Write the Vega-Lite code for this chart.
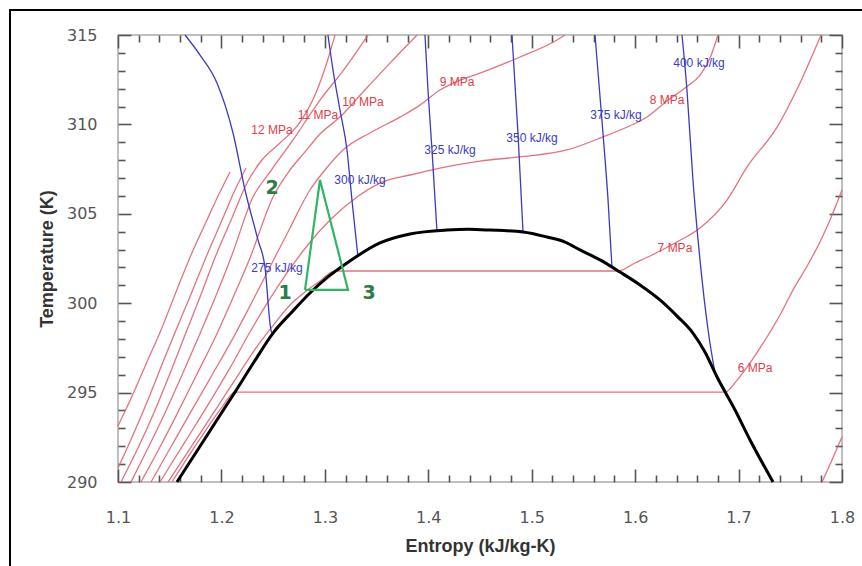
{
  "$schema": "https://vega.github.io/schema/vega-lite/v6.json",
  "width": 724,
  "height": 447,
  "autosize": {"type": "none"},
  "padding": {"left": 118, "top": 35, "right": 20, "bottom": 84},
  "background": "white",
  "config": {
    "view": {"stroke": "#aaaaaa", "strokeWidth": 1.5},
    "axis": {"grid": false}
  },
  "datasets": {
    "curves": [
      {"curve": "sat", "kind": "sat", "s": 1.1570, "T": 290.00},
      {"curve": "sat", "kind": "sat", "s": 1.1851, "T": 292.52},
      {"curve": "sat", "kind": "sat", "s": 1.2131, "T": 295.03},
      {"curve": "sat", "kind": "sat", "s": 1.2315, "T": 296.71},
      {"curve": "sat", "kind": "sat", "s": 1.2499, "T": 298.33},
      {"curve": "sat", "kind": "sat", "s": 1.2682, "T": 299.51},
      {"curve": "sat", "kind": "sat", "s": 1.2856, "T": 300.57},
      {"curve": "sat", "kind": "sat", "s": 1.3030, "T": 301.47},
      {"curve": "sat", "kind": "sat", "s": 1.3214, "T": 302.25},
      {"curve": "sat", "kind": "sat", "s": 1.3533, "T": 303.37},
      {"curve": "sat", "kind": "sat", "s": 1.3823, "T": 303.87},
      {"curve": "sat", "kind": "sat", "s": 1.4181, "T": 304.09},
      {"curve": "sat", "kind": "sat", "s": 1.4389, "T": 304.13},
      {"curve": "sat", "kind": "sat", "s": 1.4597, "T": 304.09},
      {"curve": "sat", "kind": "sat", "s": 1.4916, "T": 303.98},
      {"curve": "sat", "kind": "sat", "s": 1.5148, "T": 303.70},
      {"curve": "sat", "kind": "sat", "s": 1.5322, "T": 303.42},
      {"curve": "sat", "kind": "sat", "s": 1.5467, "T": 302.98},
      {"curve": "sat", "kind": "sat", "s": 1.5660, "T": 302.42},
      {"curve": "sat", "kind": "sat", "s": 1.5854, "T": 301.74},
      {"curve": "sat", "kind": "sat", "s": 1.6047, "T": 301.02},
      {"curve": "sat", "kind": "sat", "s": 1.6240, "T": 300.18},
      {"curve": "sat", "kind": "sat", "s": 1.6405, "T": 299.28},
      {"curve": "sat", "kind": "sat", "s": 1.6559, "T": 298.33},
      {"curve": "sat", "kind": "sat", "s": 1.6675, "T": 297.27},
      {"curve": "sat", "kind": "sat", "s": 1.6792, "T": 295.87},
      {"curve": "sat", "kind": "sat", "s": 1.6966, "T": 294.03},
      {"curve": "sat", "kind": "sat", "s": 1.7111, "T": 292.35},
      {"curve": "sat", "kind": "sat", "s": 1.7333, "T": 290.00},

      {"curve": "5 MPa", "kind": "isobar", "s": 1.7807, "T": 290.00},
      {"curve": "5 MPa", "kind": "isobar", "s": 1.7903, "T": 291.23},
      {"curve": "5 MPa", "kind": "isobar", "s": 1.8000, "T": 292.52},

      {"curve": "6 MPa", "kind": "isobar", "s": 1.1522, "T": 290.00},
      {"curve": "6 MPa", "kind": "isobar", "s": 1.1773, "T": 292.24},
      {"curve": "6 MPa", "kind": "isobar", "s": 1.2006, "T": 294.19},
      {"curve": "6 MPa", "kind": "isobar", "s": 1.2131, "T": 295.03},
      {"curve": "6 MPa", "kind": "isobar", "s": 1.6869, "T": 295.03},
      {"curve": "6 MPa", "kind": "isobar", "s": 1.6985, "T": 295.70},
      {"curve": "6 MPa", "kind": "isobar", "s": 1.7130, "T": 296.82},
      {"curve": "6 MPa", "kind": "isobar", "s": 1.7275, "T": 298.11},
      {"curve": "6 MPa", "kind": "isobar", "s": 1.7401, "T": 299.34},
      {"curve": "6 MPa", "kind": "isobar", "s": 1.7526, "T": 300.74},
      {"curve": "6 MPa", "kind": "isobar", "s": 1.7652, "T": 301.97},
      {"curve": "6 MPa", "kind": "isobar", "s": 1.7787, "T": 303.42},
      {"curve": "6 MPa", "kind": "isobar", "s": 1.7884, "T": 304.65},
      {"curve": "6 MPa", "kind": "isobar", "s": 1.7951, "T": 305.60},
      {"curve": "6 MPa", "kind": "isobar", "s": 1.8000, "T": 306.33},

      {"curve": "7 MPa", "kind": "isobar", "s": 1.1483, "T": 290.00},
      {"curve": "7 MPa", "kind": "isobar", "s": 1.1744, "T": 292.29},
      {"curve": "7 MPa", "kind": "isobar", "s": 1.2006, "T": 294.59},
      {"curve": "7 MPa", "kind": "isobar", "s": 1.2180, "T": 296.15},
      {"curve": "7 MPa", "kind": "isobar", "s": 1.2354, "T": 297.66},
      {"curve": "7 MPa", "kind": "isobar", "s": 1.2518, "T": 298.89},
      {"curve": "7 MPa", "kind": "isobar", "s": 1.2663, "T": 299.90},
      {"curve": "7 MPa", "kind": "isobar", "s": 1.2808, "T": 300.63},
      {"curve": "7 MPa", "kind": "isobar", "s": 1.2953, "T": 301.24},
      {"curve": "7 MPa", "kind": "isobar", "s": 1.3098, "T": 301.80},
      {"curve": "7 MPa", "kind": "isobar", "s": 1.5834, "T": 301.80},
      {"curve": "7 MPa", "kind": "isobar", "s": 1.5999, "T": 302.25},
      {"curve": "7 MPa", "kind": "isobar", "s": 1.6144, "T": 302.64},
      {"curve": "7 MPa", "kind": "isobar", "s": 1.6385, "T": 303.37},
      {"curve": "7 MPa", "kind": "isobar", "s": 1.6627, "T": 304.21},
      {"curve": "7 MPa", "kind": "isobar", "s": 1.6888, "T": 305.77},
      {"curve": "7 MPa", "kind": "isobar", "s": 1.7082, "T": 307.62},
      {"curve": "7 MPa", "kind": "isobar", "s": 1.7372, "T": 309.85},
      {"curve": "7 MPa", "kind": "isobar", "s": 1.7594, "T": 312.32},
      {"curve": "7 MPa", "kind": "isobar", "s": 1.7797, "T": 315.00},

      {"curve": "8 MPa", "kind": "isobar", "s": 1.1406, "T": 290.00},
      {"curve": "8 MPa", "kind": "isobar", "s": 1.1648, "T": 292.24},
      {"curve": "8 MPa", "kind": "isobar", "s": 1.1870, "T": 294.31},
      {"curve": "8 MPa", "kind": "isobar", "s": 1.2083, "T": 296.38},
      {"curve": "8 MPa", "kind": "isobar", "s": 1.2276, "T": 298.39},
      {"curve": "8 MPa", "kind": "isobar", "s": 1.2450, "T": 300.07},
      {"curve": "8 MPa", "kind": "isobar", "s": 1.2634, "T": 301.69},
      {"curve": "8 MPa", "kind": "isobar", "s": 1.2827, "T": 303.20},
      {"curve": "8 MPa", "kind": "isobar", "s": 1.3050, "T": 304.65},
      {"curve": "8 MPa", "kind": "isobar", "s": 1.3311, "T": 305.94},
      {"curve": "8 MPa", "kind": "isobar", "s": 1.3533, "T": 306.72},
      {"curve": "8 MPa", "kind": "isobar", "s": 1.3823, "T": 307.17},
      {"curve": "8 MPa", "kind": "isobar", "s": 1.4113, "T": 307.56},
      {"curve": "8 MPa", "kind": "isobar", "s": 1.4500, "T": 307.95},
      {"curve": "8 MPa", "kind": "isobar", "s": 1.4887, "T": 308.18},
      {"curve": "8 MPa", "kind": "isobar", "s": 1.5341, "T": 308.57},
      {"curve": "8 MPa", "kind": "isobar", "s": 1.5689, "T": 309.30},
      {"curve": "8 MPa", "kind": "isobar", "s": 1.5902, "T": 309.80},
      {"curve": "8 MPa", "kind": "isobar", "s": 1.6115, "T": 310.41},
      {"curve": "8 MPa", "kind": "isobar", "s": 1.6318, "T": 311.36},
      {"curve": "8 MPa", "kind": "isobar", "s": 1.6482, "T": 312.04},
      {"curve": "8 MPa", "kind": "isobar", "s": 1.6627, "T": 312.76},
      {"curve": "8 MPa", "kind": "isobar", "s": 1.6724, "T": 313.71},
      {"curve": "8 MPa", "kind": "isobar", "s": 1.6801, "T": 315.00},

      {"curve": "9 MPa", "kind": "isobar", "s": 1.1319, "T": 290.00},
      {"curve": "9 MPa", "kind": "isobar", "s": 1.1522, "T": 292.07},
      {"curve": "9 MPa", "kind": "isobar", "s": 1.1715, "T": 294.03},
      {"curve": "9 MPa", "kind": "isobar", "s": 1.1909, "T": 295.98},
      {"curve": "9 MPa", "kind": "isobar", "s": 1.2112, "T": 298.05},
      {"curve": "9 MPa", "kind": "isobar", "s": 1.2296, "T": 300.07},
      {"curve": "9 MPa", "kind": "isobar", "s": 1.2489, "T": 302.25},
      {"curve": "9 MPa", "kind": "isobar", "s": 1.2663, "T": 304.21},
      {"curve": "9 MPa", "kind": "isobar", "s": 1.2856, "T": 306.33},
      {"curve": "9 MPa", "kind": "isobar", "s": 1.3001, "T": 307.45},
      {"curve": "9 MPa", "kind": "isobar", "s": 1.3175, "T": 308.57},
      {"curve": "9 MPa", "kind": "isobar", "s": 1.3436, "T": 309.52},
      {"curve": "9 MPa", "kind": "isobar", "s": 1.3727, "T": 310.41},
      {"curve": "9 MPa", "kind": "isobar", "s": 1.3920, "T": 311.08},
      {"curve": "9 MPa", "kind": "isobar", "s": 1.4113, "T": 311.92},
      {"curve": "9 MPa", "kind": "isobar", "s": 1.4307, "T": 312.48},
      {"curve": "9 MPa", "kind": "isobar", "s": 1.4500, "T": 312.87},
      {"curve": "9 MPa", "kind": "isobar", "s": 1.4887, "T": 313.77},
      {"curve": "9 MPa", "kind": "isobar", "s": 1.5245, "T": 314.72},
      {"curve": "9 MPa", "kind": "isobar", "s": 1.5322, "T": 315.00},

      {"curve": "10 MPa", "kind": "isobar", "s": 1.1222, "T": 290.00},
      {"curve": "10 MPa", "kind": "isobar", "s": 1.1406, "T": 291.96},
      {"curve": "10 MPa", "kind": "isobar", "s": 1.1580, "T": 293.91},
      {"curve": "10 MPa", "kind": "isobar", "s": 1.1754, "T": 295.93},
      {"curve": "10 MPa", "kind": "isobar", "s": 1.1928, "T": 297.94},
      {"curve": "10 MPa", "kind": "isobar", "s": 1.2102, "T": 300.18},
      {"curve": "10 MPa", "kind": "isobar", "s": 1.2276, "T": 302.53},
      {"curve": "10 MPa", "kind": "isobar", "s": 1.2499, "T": 305.94},
      {"curve": "10 MPa", "kind": "isobar", "s": 1.2663, "T": 307.45},
      {"curve": "10 MPa", "kind": "isobar", "s": 1.2808, "T": 308.46},
      {"curve": "10 MPa", "kind": "isobar", "s": 1.2953, "T": 309.46},
      {"curve": "10 MPa", "kind": "isobar", "s": 1.3146, "T": 310.41},
      {"curve": "10 MPa", "kind": "isobar", "s": 1.3369, "T": 311.81},
      {"curve": "10 MPa", "kind": "isobar", "s": 1.3630, "T": 313.43},
      {"curve": "10 MPa", "kind": "isobar", "s": 1.3891, "T": 315.00},

      {"curve": "11 MPa", "kind": "isobar", "s": 1.1126, "T": 290.00},
      {"curve": "11 MPa", "kind": "isobar", "s": 1.1290, "T": 291.90},
      {"curve": "11 MPa", "kind": "isobar", "s": 1.1454, "T": 293.86},
      {"curve": "11 MPa", "kind": "isobar", "s": 1.1619, "T": 295.98},
      {"curve": "11 MPa", "kind": "isobar", "s": 1.1783, "T": 298.17},
      {"curve": "11 MPa", "kind": "isobar", "s": 1.1938, "T": 300.29},
      {"curve": "11 MPa", "kind": "isobar", "s": 1.2102, "T": 302.70},
      {"curve": "11 MPa", "kind": "isobar", "s": 1.2305, "T": 305.94},
      {"curve": "11 MPa", "kind": "isobar", "s": 1.2470, "T": 307.34},
      {"curve": "11 MPa", "kind": "isobar", "s": 1.2692, "T": 309.13},
      {"curve": "11 MPa", "kind": "isobar", "s": 1.2953, "T": 311.36},
      {"curve": "11 MPa", "kind": "isobar", "s": 1.3195, "T": 313.15},
      {"curve": "11 MPa", "kind": "isobar", "s": 1.3417, "T": 315.00},

      {"curve": "12 MPa", "kind": "isobar", "s": 1.1029, "T": 290.00},
      {"curve": "12 MPa", "kind": "isobar", "s": 1.1184, "T": 291.79},
      {"curve": "12 MPa", "kind": "isobar", "s": 1.1338, "T": 293.75},
      {"curve": "12 MPa", "kind": "isobar", "s": 1.1493, "T": 295.93},
      {"curve": "12 MPa", "kind": "isobar", "s": 1.1648, "T": 298.22},
      {"curve": "12 MPa", "kind": "isobar", "s": 1.1793, "T": 300.35},
      {"curve": "12 MPa", "kind": "isobar", "s": 1.1948, "T": 302.70},
      {"curve": "12 MPa", "kind": "isobar", "s": 1.2102, "T": 304.77},
      {"curve": "12 MPa", "kind": "isobar", "s": 1.2247, "T": 306.72},
      {"curve": "12 MPa", "kind": "isobar", "s": 1.2392, "T": 308.01},
      {"curve": "12 MPa", "kind": "isobar", "s": 1.2566, "T": 308.96},
      {"curve": "12 MPa", "kind": "isobar", "s": 1.2760, "T": 310.13},
      {"curve": "12 MPa", "kind": "isobar", "s": 1.2905, "T": 311.64},
      {"curve": "12 MPa", "kind": "isobar", "s": 1.3021, "T": 313.49},
      {"curve": "12 MPa", "kind": "isobar", "s": 1.3098, "T": 315.00},

      {"curve": "13 MPa", "kind": "isobar", "s": 1.1000, "T": 290.78},
      {"curve": "13 MPa", "kind": "isobar", "s": 1.1145, "T": 292.63},
      {"curve": "13 MPa", "kind": "isobar", "s": 1.1309, "T": 294.87},
      {"curve": "13 MPa", "kind": "isobar", "s": 1.1435, "T": 296.71},
      {"curve": "13 MPa", "kind": "isobar", "s": 1.1561, "T": 298.50},
      {"curve": "13 MPa", "kind": "isobar", "s": 1.1715, "T": 300.63},
      {"curve": "13 MPa", "kind": "isobar", "s": 1.1860, "T": 302.70},
      {"curve": "13 MPa", "kind": "isobar", "s": 1.2006, "T": 304.65},
      {"curve": "13 MPa", "kind": "isobar", "s": 1.2131, "T": 306.33},
      {"curve": "13 MPa", "kind": "isobar", "s": 1.2238, "T": 307.56},

      {"curve": "14 MPa", "kind": "isobar", "s": 1.1000, "T": 293.13},
      {"curve": "14 MPa", "kind": "isobar", "s": 1.1145, "T": 294.92},
      {"curve": "14 MPa", "kind": "isobar", "s": 1.1280, "T": 296.71},
      {"curve": "14 MPa", "kind": "isobar", "s": 1.1416, "T": 298.50},
      {"curve": "14 MPa", "kind": "isobar", "s": 1.1561, "T": 300.63},
      {"curve": "14 MPa", "kind": "isobar", "s": 1.1706, "T": 302.70},
      {"curve": "14 MPa", "kind": "isobar", "s": 1.1851, "T": 304.54},
      {"curve": "14 MPa", "kind": "isobar", "s": 1.1986, "T": 306.22},
      {"curve": "14 MPa", "kind": "isobar", "s": 1.2083, "T": 307.34},

      {"curve": "275", "kind": "isenthalp", "s": 1.1648, "T": 315.00},
      {"curve": "275", "kind": "isenthalp", "s": 1.1793, "T": 313.88},
      {"curve": "275", "kind": "isenthalp", "s": 1.1957, "T": 312.32},
      {"curve": "275", "kind": "isenthalp", "s": 1.2112, "T": 309.52},
      {"curve": "275", "kind": "isenthalp", "s": 1.2228, "T": 306.33},
      {"curve": "275", "kind": "isenthalp", "s": 1.2354, "T": 303.53},
      {"curve": "275", "kind": "isenthalp", "s": 1.2421, "T": 302.02},
      {"curve": "275", "kind": "isenthalp", "s": 1.2479, "T": 298.50},
      {"curve": "275", "kind": "isenthalp", "s": 1.2489, "T": 298.33},

      {"curve": "300", "kind": "isenthalp", "s": 1.3030, "T": 315.00},
      {"curve": "300", "kind": "isenthalp", "s": 1.3079, "T": 313.04},
      {"curve": "300", "kind": "isenthalp", "s": 1.3146, "T": 310.81},
      {"curve": "300", "kind": "isenthalp", "s": 1.3214, "T": 308.57},
      {"curve": "300", "kind": "isenthalp", "s": 1.3262, "T": 305.77},
      {"curve": "300", "kind": "isenthalp", "s": 1.3320, "T": 302.58},

      {"curve": "325", "kind": "isenthalp", "s": 1.3968, "T": 315.00},
      {"curve": "325", "kind": "isenthalp", "s": 1.3997, "T": 311.92},
      {"curve": "325", "kind": "isenthalp", "s": 1.4036, "T": 308.57},
      {"curve": "325", "kind": "isenthalp", "s": 1.4084, "T": 304.03},

      {"curve": "350", "kind": "isenthalp", "s": 1.4809, "T": 315.00},
      {"curve": "350", "kind": "isenthalp", "s": 1.4867, "T": 309.52},
      {"curve": "350", "kind": "isenthalp", "s": 1.4916, "T": 303.98},

      {"curve": "375", "kind": "isenthalp", "s": 1.5612, "T": 315.00},
      {"curve": "375", "kind": "isenthalp", "s": 1.5689, "T": 309.52},
      {"curve": "375", "kind": "isenthalp", "s": 1.5738, "T": 305.77},
      {"curve": "375", "kind": "isenthalp", "s": 1.5776, "T": 302.01},

      {"curve": "400", "kind": "isenthalp", "s": 1.6453, "T": 315.00},
      {"curve": "400", "kind": "isenthalp", "s": 1.6501, "T": 311.92},
      {"curve": "400", "kind": "isenthalp", "s": 1.6559, "T": 306.89},
      {"curve": "400", "kind": "isenthalp", "s": 1.6627, "T": 302.42},
      {"curve": "400", "kind": "isenthalp", "s": 1.6705, "T": 298.50},
      {"curve": "400", "kind": "isenthalp", "s": 1.6772, "T": 296.10},

      {"curve": "cycle", "kind": "cycle", "s": 1.2808, "T": 300.74},
      {"curve": "cycle", "kind": "cycle", "s": 1.2953, "T": 306.89},
      {"curve": "cycle", "kind": "cycle", "s": 1.3224, "T": 300.74},
      {"curve": "cycle", "kind": "cycle", "s": 1.2808, "T": 300.74}
    ],
    "labels": [
      {"label": "12 MPa", "kind": "isobar", "s": 1.2489, "T": 309.69},
      {"label": "11 MPa", "kind": "isobar", "s": 1.2934, "T": 310.53},
      {"label": "10 MPa", "kind": "isobar", "s": 1.3369, "T": 311.25},
      {"label": "9 MPa", "kind": "isobar", "s": 1.4278, "T": 312.37},
      {"label": "8 MPa", "kind": "isobar", "s": 1.6308, "T": 311.36},
      {"label": "7 MPa", "kind": "isobar", "s": 1.6385, "T": 303.09},
      {"label": "6 MPa", "kind": "isobar", "s": 1.7159, "T": 296.38},
      {"label": "275 kJ/kg", "kind": "isenthalp", "s": 1.2537, "T": 301.97},
      {"label": "300 kJ/kg", "kind": "isenthalp", "s": 1.3340, "T": 306.89},
      {"label": "325 kJ/kg", "kind": "isenthalp", "s": 1.4210, "T": 308.57},
      {"label": "350 kJ/kg", "kind": "isenthalp", "s": 1.5003, "T": 309.24},
      {"label": "375 kJ/kg", "kind": "isenthalp", "s": 1.5815, "T": 310.53},
      {"label": "400 kJ/kg", "kind": "isenthalp", "s": 1.6617, "T": 313.43},
      {"label": "1", "kind": "point", "s": 1.2615, "T": 300.57},
      {"label": "2", "kind": "point", "s": 1.2489, "T": 306.44},
      {"label": "3", "kind": "point", "s": 1.3427, "T": 300.57}
    ],
    "frame": [
      {"s0": 0.99558, "s1": 1.8271, "T0": 316.398, "T1": 284.80}
    ]
  },
  "layer": [
    {
      "data": {"name": "curves"},
      "transform": [{"filter": "datum.kind === 'isobar'"}],
      "mark": {"type": "line", "color": "#e06470", "strokeWidth": 1.3, "opacity": 0.9, "interpolate": "monotone"},
      "encoding": {
        "x": {"field": "s", "type": "quantitative", "scale": {"domain": [1.1, 1.8], "nice": false, "zero": false},
          "axis": {"orient": "bottom", "offset": -13, "values": [1.1, 1.2, 1.3, 1.4, 1.5, 1.6, 1.7, 1.8], "format": ".1f", "tickSize": 13, "tickColor": "#555555", "tickWidth": 1.6, "domain": false,
            "labelPadding": 27, "labelFontSize": 16, "labelColor": "#555555", "labelFont": "DejaVu Sans", "labelFlush": false, "labelOverlap": false,
            "title": "Entropy (kJ/kg-K)", "titleFontSize": 18, "titleFont": "Liberation Sans", "titleFontWeight": "bold", "titleColor": "#333333", "titlePadding": 12}},
        "y": {"field": "T", "type": "quantitative", "scale": {"domain": [290, 315], "nice": false, "zero": false},
          "axis": {"orient": "left", "offset": -13, "values": [290, 295, 300, 305, 310, 315], "tickSize": 13, "tickColor": "#555555", "tickWidth": 1.6, "domain": false,
            "labelPadding": 21, "labelFontSize": 16, "labelColor": "#555555", "labelFont": "DejaVu Sans", "labelFlush": false, "labelOverlap": false,
            "title": "Temperature (K)", "titleFontSize": 18, "titleFont": "Liberation Sans", "titleFontWeight": "bold", "titleColor": "#333333", "titlePadding": 10}},
        "detail": {"field": "curve"},
        "order": {"value": null}
      }
    },
    {
      "data": {"name": "curves"},
      "transform": [{"filter": "datum.kind === 'isenthalp'"}],
      "mark": {"type": "line", "color": "#3a3ac4", "strokeWidth": 1.3, "interpolate": "monotone"},
      "encoding": {
        "x": {"field": "s", "type": "quantitative", "scale": {"domain": [1.1, 1.8], "nice": false, "zero": false},
          "axis": {"orient": "bottom", "offset": -7, "values": [1.12, 1.14, 1.16, 1.18, 1.22, 1.24, 1.26, 1.28, 1.32, 1.34, 1.36, 1.38, 1.42, 1.44, 1.46, 1.48, 1.52, 1.54, 1.56, 1.58, 1.62, 1.64, 1.66, 1.68, 1.72, 1.74, 1.76, 1.78], "tickSize": 7, "tickColor": "#555555", "tickWidth": 1.6, "labels": false, "domain": false, "title": null}},
        "y": {"field": "T", "type": "quantitative", "scale": {"domain": [290, 315], "nice": false, "zero": false},
          "axis": {"orient": "left", "offset": -7, "values": [291, 292, 293, 294, 296, 297, 298, 299, 301, 302, 303, 304, 306, 307, 308, 309, 311, 312, 313, 314], "tickSize": 7, "tickColor": "#555555", "tickWidth": 1.6, "labels": false, "domain": false, "title": null}},
        "detail": {"field": "curve"},
        "order": {"value": null}
      }
    },
    {
      "data": {"name": "curves"},
      "transform": [{"filter": "datum.kind === 'sat'"}],
      "mark": {"type": "line", "color": "#000000", "strokeWidth": 3, "interpolate": "monotone"},
      "encoding": {
        "x": {"field": "s", "type": "quantitative", "scale": {"domain": [1.1, 1.8], "nice": false, "zero": false},
          "axis": {"orient": "top", "offset": -7, "values": [1.12, 1.14, 1.16, 1.18, 1.22, 1.24, 1.26, 1.28, 1.32, 1.34, 1.36, 1.38, 1.42, 1.44, 1.46, 1.48, 1.52, 1.54, 1.56, 1.58, 1.62, 1.64, 1.66, 1.68, 1.72, 1.74, 1.76, 1.78], "tickSize": 7, "tickColor": "#555555", "tickWidth": 1.6, "labels": false, "domain": false, "title": null}},
        "y": {"field": "T", "type": "quantitative", "scale": {"domain": [290, 315], "nice": false, "zero": false},
          "axis": {"orient": "right", "offset": -7, "values": [291, 292, 293, 294, 296, 297, 298, 299, 301, 302, 303, 304, 306, 307, 308, 309, 311, 312, 313, 314], "tickSize": 7, "tickColor": "#555555", "tickWidth": 1.6, "labels": false, "domain": false, "title": null}},
        "order": {"value": null}
      }
    },
    {
      "data": {"name": "curves"},
      "transform": [{"filter": "datum.kind === 'cycle'"}],
      "mark": {"type": "line", "color": "#33b366", "strokeWidth": 2.2},
      "encoding": {
        "x": {"field": "s", "type": "quantitative", "scale": {"domain": [1.1, 1.8], "nice": false, "zero": false},
          "axis": {"orient": "top", "offset": -13, "values": [1.1, 1.2, 1.3, 1.4, 1.5, 1.6, 1.7, 1.8], "tickSize": 13, "tickColor": "#555555", "tickWidth": 1.6, "labels": false, "domain": false, "title": null}},
        "y": {"field": "T", "type": "quantitative", "scale": {"domain": [290, 315], "nice": false, "zero": false},
          "axis": {"orient": "right", "offset": -13, "values": [290, 295, 300, 305, 310, 315], "tickSize": 13, "tickColor": "#555555", "tickWidth": 1.6, "labels": false, "domain": false, "title": null}},
        "order": {"value": null}
      }
    },
    {
      "data": {"name": "labels"},
      "transform": [{"filter": "datum.kind === 'isobar'"}],
      "mark": {"type": "text", "color": "#e0404a", "fontSize": 12, "font": "Liberation Sans", "align": "center", "baseline": "middle"},
      "encoding": {
        "x": {"field": "s", "type": "quantitative", "scale": {"domain": [1.1, 1.8], "nice": false, "zero": false}, "axis": null},
        "y": {"field": "T", "type": "quantitative", "scale": {"domain": [290, 315], "nice": false, "zero": false}, "axis": null},
        "text": {"field": "label"}
      }
    },
    {
      "data": {"name": "labels"},
      "transform": [{"filter": "datum.kind === 'isenthalp'"}],
      "mark": {"type": "text", "color": "#3a3ac4", "fontSize": 12, "font": "Liberation Sans", "align": "center", "baseline": "middle"},
      "encoding": {
        "x": {"field": "s", "type": "quantitative", "scale": {"domain": [1.1, 1.8], "nice": false, "zero": false}, "axis": null},
        "y": {"field": "T", "type": "quantitative", "scale": {"domain": [290, 315], "nice": false, "zero": false}, "axis": null},
        "text": {"field": "label"}
      }
    },
    {
      "data": {"name": "labels"},
      "transform": [{"filter": "datum.kind === 'point'"}],
      "mark": {"type": "text", "color": "#2a7d45", "fontSize": 19, "fontWeight": "bold", "font": "DejaVu Sans", "align": "center", "baseline": "middle"},
      "encoding": {
        "x": {"field": "s", "type": "quantitative", "scale": {"domain": [1.1, 1.8], "nice": false, "zero": false}, "axis": null},
        "y": {"field": "T", "type": "quantitative", "scale": {"domain": [290, 315], "nice": false, "zero": false}, "axis": null},
        "text": {"field": "label"}
      }
    },
    {
      "data": {"name": "frame"},
      "mark": {"type": "rect", "filled": false, "stroke": "black", "strokeWidth": 2, "clip": false},
      "encoding": {
        "x": {"field": "s0", "type": "quantitative", "scale": {"domain": [1.1, 1.8], "nice": false, "zero": false}, "axis": null},
        "x2": {"field": "s1"},
        "y": {"field": "T0", "type": "quantitative", "scale": {"domain": [290, 315], "nice": false, "zero": false}, "axis": null},
        "y2": {"field": "T1"}
      }
    }
  ],
  "resolve": {"axis": {"x": "independent", "y": "independent"}}
}
